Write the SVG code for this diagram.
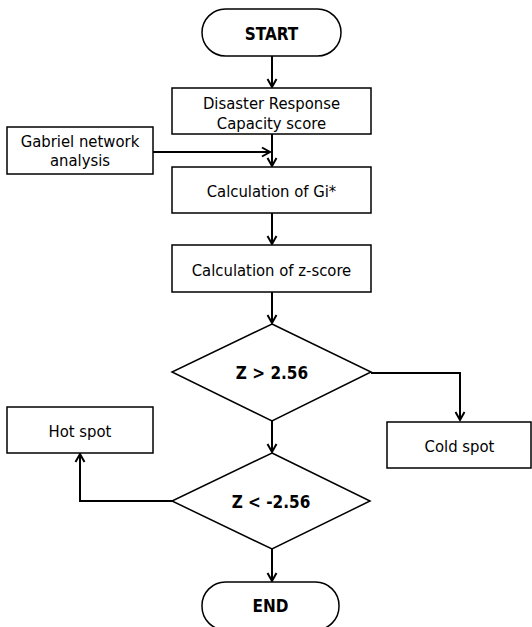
<svg xmlns="http://www.w3.org/2000/svg" width="532" height="627" viewBox="0 0 532 627">
<defs>
<marker id="arr" markerUnits="userSpaceOnUse" markerWidth="12" markerHeight="12" refX="9" refY="5" orient="auto" viewBox="0 0 12 10">
<path d="M1,0.5 L9,5 L1,9.5" fill="none" stroke="#000" stroke-width="2"/>
</marker>
<style>
.box{fill:#fff;stroke:#000;stroke-width:1.5}
.t{font-family:"DejaVu Sans Condensed","DejaVu Sans",sans-serif;font-stretch:condensed;font-size:16.5px;fill:#000;text-anchor:middle}
.b{font-weight:bold;font-size:17px}
.c{fill:none;stroke:#000;stroke-width:2;marker-end:url(#arr)}
</style>
</defs>
<rect width="532" height="627" fill="#fff"/>
<g id="connectors">
<path class="c" d="M272,56 V87"/>
<path class="c" d="M272,134 V166"/>
<path class="c" d="M153,152 H270"/>
<path class="c" d="M272,213 V244"/>
<path class="c" d="M272,292 V323"/>
<path class="c" d="M371,373 H460 V420"/>
<path class="c" d="M272,421 V452"/>
<path class="c" d="M172,501 H80 V454"/>
<path class="c" d="M272,549 V581"/>
</g>
<g id="start">
<rect class="box" x="202" y="9" width="139" height="47" rx="23.5"/>
<text class="t b" x="271.5" y="40">START</text>
</g>
<g id="drc">
<rect class="box" x="172" y="88" width="199" height="46"/>
<text class="t" x="271.5" y="109">Disaster Response</text>
<text class="t" x="271.5" y="129">Capacity score</text>
</g>
<g id="gabriel">
<rect class="box" x="7" y="127" width="146" height="47"/>
<text class="t" x="80" y="147">Gabriel network</text>
<text class="t" x="80" y="166">analysis</text>
</g>
<g id="gi">
<rect class="box" x="172" y="167" width="199" height="46"/>
<text class="t" x="271.5" y="197">Calculation of Gi*</text>
</g>
<g id="zscore">
<rect class="box" x="172" y="245" width="199" height="47"/>
<text class="t" x="271.5" y="276">Calculation of z-score</text>
</g>
<g id="d1">
<polygon class="box" points="272,324 371,372 272,421 172,372"/>
<text class="t b" x="272" y="379">Z &gt; 2.56</text>
</g>
<g id="hot">
<rect class="box" x="7" y="407" width="146" height="46"/>
<text class="t" x="80" y="437">Hot spot</text>
</g>
<g id="cold">
<rect class="box" x="387" y="422" width="144" height="46"/>
<text class="t" x="459.5" y="452">Cold spot</text>
</g>
<g id="d2">
<polygon class="box" points="272,453 370,501 272,549 172,501"/>
<text class="t b" x="271" y="508">Z &lt; -2.56</text>
</g>
<g id="end">
<rect class="box" x="202" y="582" width="137" height="48" rx="23.5"/>
<text class="t b" x="270.5" y="612">END</text>
</g>
</svg>
